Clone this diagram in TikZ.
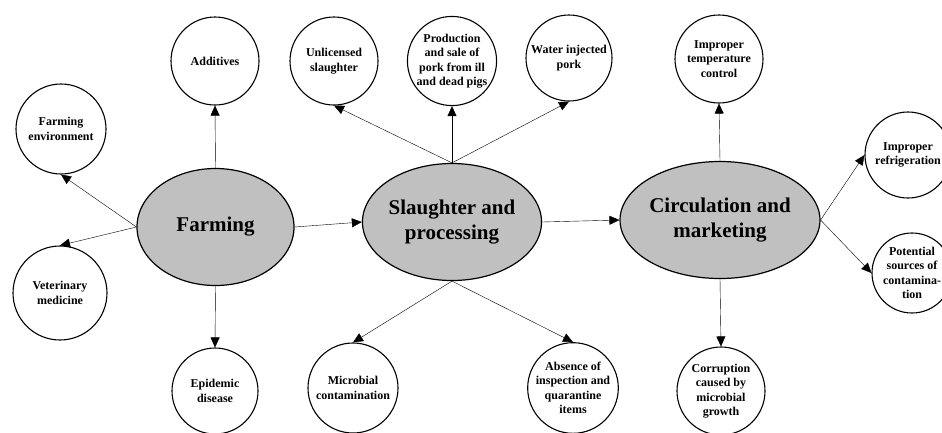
\documentclass[tikz,border=0pt]{standalone}
\usepackage{fontspec}
\setmainfont{Liberation Serif}
\usetikzlibrary{shapes.geometric, arrows.meta}
\definecolor{stagegray}{RGB}{192,192,192}
\tikzset{
->, % every connector is directed
>={Triangle[length=10pt,width=9pt]}, % filled triangular heads
line width=1pt,
stage/.style={ellipse, draw, line width=1.2pt, fill=stagegray, minimum width=157pt, minimum height=117pt, inner sep=0pt, align=center, font=\fontsize{21}{25}\selectfont\bfseries}, % the three chain stages
factor/.style={circle, draw, line width=1.1pt, minimum size=88pt, inner sep=0pt, align=center, font=\fontsize{12}{14.5}\selectfont\bfseries}, % the risk factors
}

\begin{document}
\begin{tikzpicture}[x=1pt, y=-1pt]
        \useasboundingbox (0,0) rectangle (942,432);

        \node[stage] (farm) at (215.5,227) {Farming};
        \node[stage] (slaughter) at (452,222) {Slaughter and\\processing};
        \node[stage] (market) at (720,220) {Circulation and\\marketing};

        \node[factor] (add) at (215,61) {Additives};
        \node[factor, minimum size=90pt] (env) at (61,129) {Farming\\environment};
        \node[factor, minimum size=94pt] (vet) at (60,293) {Veterinary\\medicine};
        \node[factor, minimum size=86pt] (epi) at (215,391) {Epidemic\\disease};

        \node[factor] (unlic) at (334,61) {Unlicensed\\slaughter};
        \node[factor] (ill) at (452,61) {Production\\and sale of\\pork from ill\\and dead pigs};
        \node[factor, minimum size=86pt] (water) at (569,58) {Water injected\\pork};
        \node[factor, minimum size=90pt] (micro) at (353,388) {Microbial\\contamination};
        \node[factor, minimum size=90pt] (absence) at (573,388) {Absence of\\inspection and\\quarantine\\items};

        \node[factor] (temp) at (719,59) {Improper\\temperature\\control};
        \node[factor, minimum size=86pt] (fridge) at (908,155) {Improper\\refrigeration};
        \node[factor, minimum size=80pt] (source) at (912,273) {Potential\\sources of\\contamina-\\tion};
        \node[factor] (rot) at (721,391) {Corruption\\caused by\\microbial\\growth};

        % along the chain
        \draw (farm.east) -- (slaughter.west);
        \draw (slaughter.east) -- (market.west);

        % farming
        \draw (farm.north) -- (add.south);
        \draw (farm.west) -- (env.south);
        \draw (farm.west) -- (vet.north);
        \draw (farm.south) -- (epi.north);

        % slaughter and processing
        \draw (slaughter.north) -- (unlic.south);
        \draw (slaughter.north) -- (ill.south);
        \draw (slaughter.north) -- (water.south);
        \draw (slaughter.south) -- (micro.north);
        \draw (slaughter.south) -- (absence.north);

        % circulation and marketing
        \draw (market.north) -- (temp.south);
        \draw (market.east) -- (fridge.west);
        \draw (market.east) -- (source.west);
        \draw (market.south) -- (rot.north);
    \end{tikzpicture}
\end{document}
